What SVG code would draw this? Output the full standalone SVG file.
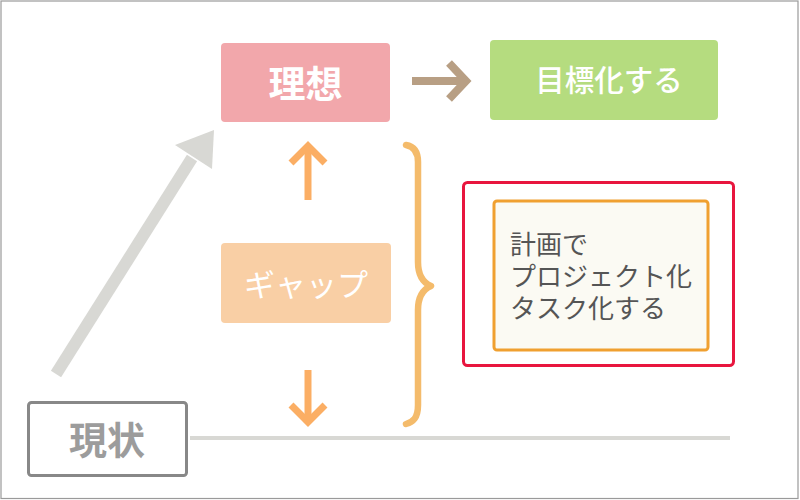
<svg xmlns="http://www.w3.org/2000/svg" width="800" height="500" viewBox="0 0 800 500">
<style>
.jp{font-family:"Noto Sans CJK JP","Noto Sans",sans-serif;}
.w{fill:#ffffff;text-anchor:middle;}
</style>
<rect x="0" y="0" width="800" height="500" fill="#ffffff"/>
<rect x="1" y="1" width="797" height="497.5" fill="none" stroke="#9a9a9a" stroke-width="1.2"/>
<g id="connectors" fill="none" stroke-linecap="butt">
  <line x1="190" y1="438" x2="730" y2="438" stroke="#d8d8d4" stroke-width="4"/>
  <line x1="56" y1="374" x2="192" y2="158" stroke="#d8d8d4" stroke-width="12"/>
  <polygon points="214,130 175,145 212,169" fill="#d8d8d4" stroke="none"/>
  <g stroke="#b89f84" stroke-width="8">
    <line x1="412" y1="81" x2="464" y2="81"/>
    <polyline points="449,63 466,81 449,99" stroke-linejoin="miter"/>
  </g>
  <g stroke="#fbae64" stroke-width="7">
    <line x1="308" y1="200" x2="308" y2="147"/>
    <polyline points="291,163 308,146 325,163"/>
    <line x1="308" y1="370" x2="308" y2="421"/>
    <polyline points="291,405 308,422 325,405"/>
  </g>
  <path d="M406,145 C412,146 418,150 418,162 L418,262 C418,276 424,283 431,286 C424,289 418,296 418,310 L418,405 C418,418 413,422 406,424" stroke="#f4bb6b" stroke-width="6.5" stroke-linecap="round" stroke-linejoin="round"/>
</g>
<g id="riso">
  <rect x="221" y="43" width="169" height="79" rx="4" fill="#f2a7ab"/>
  <text x="305.5" y="98" class="jp w" font-size="37" font-weight="bold">理想</text>
</g>
<g id="mokuhyo">
  <rect x="490" y="40" width="228" height="80" rx="4" fill="#b5dc7f"/>
  <text x="609" y="91" class="jp w" font-size="29.5" font-weight="500">目標化する</text>
</g>
<g id="gap">
  <rect x="221" y="243" width="170" height="80" rx="4" fill="#f9cfa5"/>
  <text x="306" y="296" class="jp w" font-size="31">ギャップ</text>
</g>
<g id="genjo">
  <rect x="28.5" y="402.5" width="158" height="73" rx="3" fill="#ffffff" stroke="#888888" stroke-width="3"/>
  <text x="107" y="454" class="jp" font-size="38" font-weight="bold" fill="#9c9c9c" text-anchor="middle">現状</text>
</g>
<g id="plan">
  <rect x="463.5" y="182.5" width="270" height="183" rx="4" fill="#ffffff" stroke="#e8163e" stroke-width="3"/>
  <rect x="494" y="201" width="214" height="149" rx="3" fill="#fbfaf3" stroke="#f0a030" stroke-width="3"/>
  <text class="jp" font-size="26" fill="#555555">
    <tspan x="510" y="254">計画で</tspan>
    <tspan x="510" y="286">プロジェクト化</tspan>
    <tspan x="510" y="318">タスク化する</tspan>
  </text>
</g>
</svg>
